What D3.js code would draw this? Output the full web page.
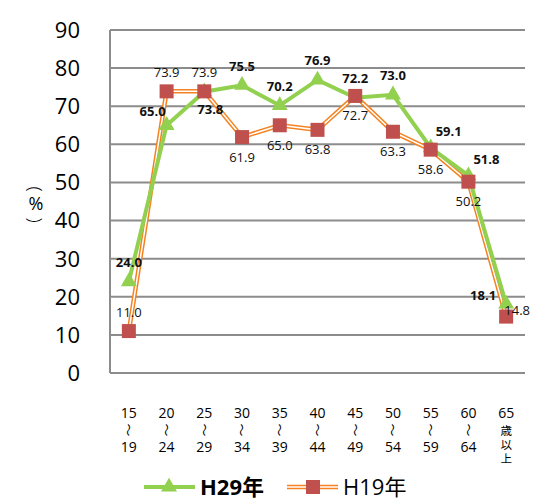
<!DOCTYPE html>
<html>
<head>
<meta charset="utf-8">
<script src="https://cdn.jsdelivr.net/npm/d3@7"></script>
<style>
  body { margin: 0; background: #fff; }
  svg text { font-family: "Open Sans", "Noto Sans CJK JP", sans-serif; }
</style>
</head>
<body>
<svg id="chart" width="536" height="500"></svg>
<script>
const categories = ["15-19", "20-24", "25-29", "30-34", "35-39", "40-44", "45-49", "50-54", "55-59", "60-64", "65+"];
const tickTop = ["15", "20", "25", "30", "35", "40", "45", "50", "55", "60", "65"];
const tickBottom = ["19", "24", "29", "34", "39", "44", "49", "54", "59", "64", "歳以上"];
const h29 = [24.0, 65.0, 73.8, 75.5, 70.2, 76.9, 72.2, 73.0, 59.1, 51.8, 18.1];
const h19 = [11.0, 73.9, 73.9, 61.9, 65.0, 63.8, 72.7, 63.3, 58.6, 50.2, 14.8];
const yTicks = [0, 10, 20, 30, 40, 50, 60, 70, 80, 90];

// where each data label sits relative to its point
const h29Place = ["above", "upLeft", "belowRight", "above", "above", "above", "above", "above", "aboveRight", "aboveRight", "left"];
const h19Place = ["above", "above", "above", "below", "below", "below", "below", "below", "below", "below", "right"];

const svg = d3.select("#chart");
const margin = { left: 110, right: 11, top: 30, bottom: 127 };
const W = 536, H = 500;

const x = d3.scaleBand().domain(categories).range([margin.left, W - margin.right]);
const y = d3.scaleLinear().domain([0, 90]).range([H - margin.bottom, margin.top]);
const cx = c => x(c) + x.bandwidth() / 2;

// grid
svg.append("g").selectAll("line").data(yTicks).join("line")
  .attr("x1", margin.left).attr("x2", W - margin.right)
  .attr("y1", d => y(d)).attr("y2", d => y(d))
  .attr("stroke", "#8c8c8c").attr("stroke-width", 2);
svg.append("line")
  .attr("x1", margin.left).attr("x2", margin.left)
  .attr("y1", y(90)).attr("y2", y(0))
  .attr("stroke", "#8c8c8c").attr("stroke-width", 2);

// y labels
svg.append("g").selectAll("text").data(yTicks).join("text")
  .attr("x", 80).attr("y", d => y(d))
  .attr("dy", "0.36em").attr("text-anchor", "end")
  .attr("font-size", 22).attr("fill", "#000")
  .text(d => d);

// y title (vertical, parentheses turned)
const yt = svg.append("g").attr("transform", "translate(36,204)");
yt.append("text").attr("transform", "translate(0,-15) rotate(90)")
  .attr("text-anchor", "middle").attr("dy", "0.35em").attr("font-size", 19).attr("font-weight", 300).text("(");
yt.append("text").attr("text-anchor", "middle").attr("dy", "0.35em").attr("font-size", 18).text("%");
yt.append("text").attr("transform", "translate(0,16) rotate(90)")
  .attr("text-anchor", "middle").attr("dy", "0.35em").attr("font-size", 19).attr("font-weight", 300).text(")");

// x labels
const xl = svg.append("g").selectAll("g").data(categories).join("g")
  .attr("transform", c => `translate(${cx(c)},0)`);
xl.append("text").attr("y", 418).attr("text-anchor", "middle").attr("font-size", 14)
  .text((c, i) => tickTop[i]);
xl.append("text").attr("transform", "translate(0,430) rotate(90)")
  .attr("text-anchor", "middle").attr("dy", "0.35em").attr("font-size", 13)
  .text((c, i) => tickBottom[i].length > 2 ? "" : "～");
xl.each(function (c, i) {
  const t = tickBottom[i];
  const g = d3.select(this);
  if (t.length > 2) {
    t.split("").forEach((ch, k) => {
      g.append("text").attr("y", 431 + k * 14).attr("dy", "0.35em").attr("text-anchor", "middle")
        .attr("font-size", 11.5).text(ch);
    });
  } else {
    g.append("text").attr("y", 452).attr("text-anchor", "middle").attr("font-size", 14).text(t);
  }
});

// H19 series: orange double line
const line = d3.line().x((d, i) => cx(categories[i])).y(d => y(d));
svg.append("path").datum(h19).attr("d", line)
  .attr("fill", "none").attr("stroke", "#f58220").attr("stroke-width", 4.5);
svg.append("path").datum(h19).attr("d", line)
  .attr("fill", "none").attr("stroke", "#fff").attr("stroke-width", 1.5);

// H29 series: green line
svg.append("path").datum(h29).attr("d", line)
  .attr("fill", "none").attr("stroke", "#92d050").attr("stroke-width", 4);

const tri = d3.symbol().type(d3.symbolTriangle).size(110);
svg.append("g").selectAll("path").data(h29).join("path")
  .attr("d", tri)
  .attr("transform", (d, i) => `translate(${cx(categories[i])},${y(d)})`)
  .attr("fill", "#92d050");

svg.append("g").selectAll("rect").data(h19).join("rect")
  .attr("x", (d, i) => cx(categories[i]) - 7).attr("y", d => y(d) - 7)
  .attr("width", 14).attr("height", 14)
  .attr("fill", "#c0504d");

// data labels
const offs = {
  above: [0, -19], below: [0, 20], left: [-10, -9], right: [11, -6],
  upLeft: [-14, -14], belowRight: [6, 18], aboveRight: [18, -16]
};
function labels(vals, place, bold) {
  svg.append("g").selectAll("text").data(vals).join("text")
    .attr("x", (d, i) => cx(categories[i]) + offs[place[i]][0])
    .attr("y", (d, i) => y(d) + offs[place[i]][1])
    .attr("dy", "0.35em")
    .attr("text-anchor", (d, i) => place[i] === "left" ? "end" : "middle")
    .attr("font-size", 13)
    .attr("font-weight", bold ? "bold" : "normal")
    .attr("fill", "#111")
    .text(d => d.toFixed(1));
}
labels(h19, h19Place, false);
labels(h29, h29Place, true);

// legend
const lg = svg.append("g").attr("transform", "translate(0,487)");
lg.append("line").attr("x1", 144).attr("x2", 195).attr("stroke", "#92d050").attr("stroke-width", 4);
lg.append("path").attr("d", tri).attr("transform", "translate(169,0)").attr("fill", "#92d050");
lg.append("text").attr("x", 200).attr("dy", "0.36em").attr("font-size", 22).attr("font-weight", "bold").text("H29年");
lg.append("line").attr("x1", 287).attr("x2", 338).attr("stroke", "#f58220").attr("stroke-width", 4.5);
lg.append("line").attr("x1", 287).attr("x2", 338).attr("stroke", "#fff").attr("stroke-width", 1.5);
lg.append("rect").attr("x", 306).attr("y", -7).attr("width", 14).attr("height", 14).attr("fill", "#c0504d");
lg.append("text").attr("x", 343).attr("dy", "0.36em").attr("font-size", 22).text("H19年");
</script>
</body>
</html>
